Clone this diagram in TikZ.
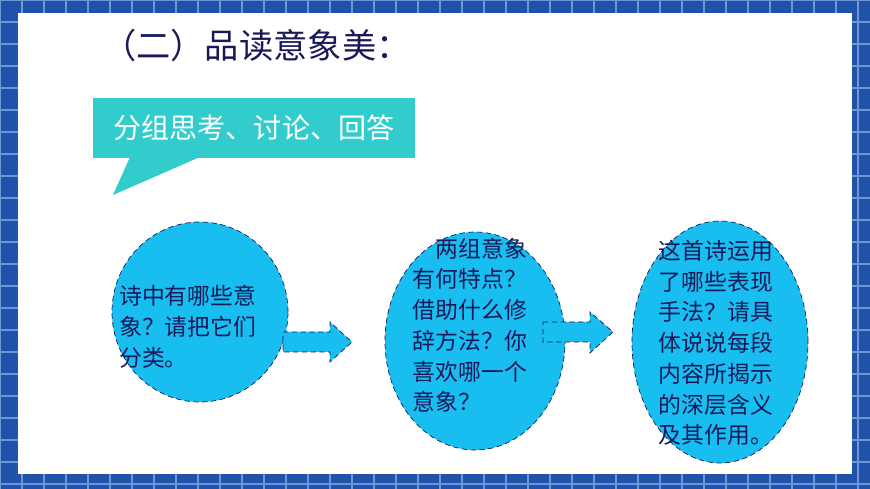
\documentclass[tikz,border=0pt]{standalone}
\usepackage{fontspec}
\setmainfont{Noto Sans CJK SC}
\usetikzlibrary{shapes.geometric}
\definecolor{frameblue}{RGB}{33,82,170}
\definecolor{gridline}{RGB}{110,150,215}
\definecolor{teal}{RGB}{51,204,204}
\definecolor{bubble}{RGB}{24,190,240}
\definecolor{navy}{RGB}{25,25,90}
\tikzset{
  idea/.style={ellipse,draw=navy,densely dashed,fill=bubble,text=navy},
  ideatext/.style={text=navy,font=\fontsize{13}{17.5}\selectfont,align=left},
  step arrow/.style={draw=navy,densely dashed,fill=bubble}
}
\begin{document}
\begin{tikzpicture}[x=0.02cm,y=-0.02cm]
    \useasboundingbox (0,0) rectangle (870,489);
    \fill[frameblue] (0,0) rectangle (870,489);
    \foreach \i in {0,22,...,880} {\draw[gridline,line width=0.6pt] (\i,0) -- (\i,489);}
    \foreach \j in {0,22,...,489} {\draw[gridline,line width=0.6pt] (0,\j) -- (870,\j);}
    \fill[white] (18,13) rectangle (852,474);
    % title and callout
    \node[anchor=west,text=navy,font=\fontsize{19.5}{24}\selectfont] (title) at (96,45) {（二）品读意象美：};
    \fill[teal] (130,157) -- (113,195) -- (200,157) -- cycle;
    \node[fill=teal,text=white,minimum width=322*0.02cm,minimum height=60*0.02cm,font=\fontsize{16}{20}\selectfont] (task) at (254,128) {分组思考、讨论、回答};
    % ideas
    \node[idea,minimum width=176*0.02cm,minimum height=180*0.02cm] (q1) at (200,312) {};
    \node[ideatext,anchor=west] at (113,327) {诗中有哪些意\\象？请把它们\\分类。};
    \node[idea,minimum width=180*0.02cm,minimum height=218*0.02cm] (q2) at (475,341) {};
    \node[ideatext] at (470,325) {\hspace{1em}两组意象\\有何特点？\\借助什么修\\辞方法？你\\喜欢哪一个\\意象？};
    \node[idea,minimum width=176*0.02cm,minimum height=242*0.02cm] (q3) at (720,342) {};
    \node[ideatext] at (716,343) {这首诗运用\\了哪些表现\\手法？请具\\体说说每段\\内容所揭示\\的深层含义\\及其作用。};
    % arrows
    \draw[step arrow] (283,332) -- (330,332) -- (330,322) -- (352,342) -- (330,362) -- (330,352) -- (283,352) -- cycle;
    \draw[step arrow] (543,322) -- (590,322) -- (590,312) -- (613,332) -- (590,353) -- (590,342) -- (543,342) -- cycle;
\end{tikzpicture}
\end{document}
